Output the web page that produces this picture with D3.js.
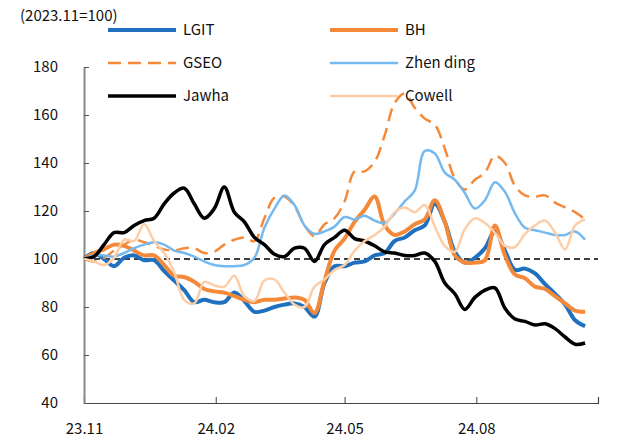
<!DOCTYPE html>
<html>
<head>
<meta charset="utf-8">
<script src="https://cdn.jsdelivr.net/npm/d3@7"></script>
<style>
  body { margin: 0; background: #fff; }
  text { font-family: "Noto Sans CJK KR", "Noto Sans", sans-serif; }
</style>
</head>
<body>
<script>
var width = 617;
var height = 441;
var marginLeft = 84;
var marginRight = 19;
var marginTop = 67;
var marginBottom = 38;

// weekly samples starting 2023-11-01, index 2023.11 = 100
var startDate = new Date(2023, 10, 1);
var endDate = new Date(2024, 9, 25);
var tickDates = [new Date(2023, 10, 1), new Date(2024, 1, 1), new Date(2024, 4, 1), new Date(2024, 7, 1)];
var tickLabels = ["23.11", "24.02", "24.05", "24.08"];
var yTicks = [40, 60, 80, 100, 120, 140, 160, 180];

var lgit = [100, 102.5, 100, 97, 100.5, 101.5, 99.5, 99.5, 95, 91, 87, 82, 83, 82, 82, 86, 82.5, 78, 78.5, 80,
  81, 81.5, 80, 76, 90, 97, 97, 98.5, 99, 101.5, 102.5, 107.5, 109, 112, 114, 123, 115.5, 103, 98.5, 100.5,
  104.5, 111.5, 103.5, 95.5, 96, 94, 89.5, 85.5, 81, 74.5, 72];
var bh = [100, 102.5, 104, 106, 105.5, 103.5, 101.5, 101.5, 97.5, 93, 92.5, 90.5, 87.5, 86.5, 86, 84.5, 83, 82, 83, 83,
  83.5, 84, 83, 77.5, 91, 103.5, 108.5, 115.5, 120.5, 126, 114, 110, 111.5, 114.5, 116.5, 124.5, 115.5, 101.5, 98.5, 98.5,
  99.5, 114, 101.5, 93.5, 92, 88.5, 87.5, 84.5, 81.5, 78.5, 78];
var gseo = [100, 99, 100.5, 103.5, 106, 108, 107, 105.5, 104, 103.5, 104.5, 104.5, 102.5, 103, 106, 108, 109, 107.5, 117, 125.5,
  126, 122, 114, 109.5, 114.5, 117, 124, 136.5, 136.5, 140.5, 151.5, 165, 169, 163, 158.5, 156, 146, 133.5, 129, 133,
  136, 143, 140, 130.5, 126.5, 126, 126.5, 123.5, 121.5, 119.5, 116.5];
var zhending = [100, 101.5, 101.5, 101, 102.5, 104.5, 106, 107, 106, 103.5, 102.5, 101, 99, 97.5, 97, 97, 97.5, 100.5, 113, 121,
  126.5, 122.5, 114, 110.5, 111.5, 113.5, 117.5, 116.5, 118, 116, 115, 119, 124, 128.5, 145, 144, 136, 133, 127.5, 121,
  124.5, 132, 128, 119, 113, 112, 111, 110, 110, 111.5, 108];
var jawha = [100, 101, 106, 111, 111, 114, 116, 117, 123, 127.5, 129.5, 123, 117, 121, 130, 119.5, 115.5, 109, 106, 102,
  101, 104.5, 104.5, 99, 106, 109, 112, 108.5, 107.5, 105.5, 103, 102.5, 101.5, 101.5, 102.5, 99, 90, 85.5, 79, 84,
  87, 88, 79.5, 75, 74, 72.5, 73, 71, 67.5, 64.5, 65];
var cowell = [100, 99, 97.5, 100.5, 108, 107.5, 114.5, 107.5, 102.5, 94.5, 83, 81.5, 90.5, 89, 88.5, 93, 84.5, 82.5, 91, 91.5,
  86, 81, 80, 88.5, 91.5, 95.5, 97.5, 103.5, 107.5, 110, 113.5, 119.5, 121.5, 119.5, 122.5, 113.5, 105.5, 103, 112.5, 117,
  115, 111, 105.5, 105, 110.5, 114, 116, 111, 104, 114, 116.5];

var dates = d3.range(lgit.length).map(i => d3.timeDay.offset(startDate, 7 * i));

var series = [
  { name: "LGIT", values: lgit, color: "#1f70be", width: 4, dash: null },
  { name: "BH", values: bh, color: "#f5893a", width: 4, dash: null },
  { name: "GSEO", values: gseo, color: "#f5893a", width: 2.5, dash: "13,7" },
  { name: "Zhen ding", values: zhending, color: "#74b9ef", width: 2.5, dash: null },
  { name: "Jawha", values: jawha, color: "#000000", width: 3.5, dash: null },
  { name: "Cowell", values: cowell, color: "#fccda6", width: 2.5, dash: null }
];

let svg = d3.select("body")
            .append("svg")
            .attr("width", width)
            .attr("height", height);

var xScale = d3.scaleTime()
      .domain([startDate, endDate])
      .range([marginLeft, width - marginRight]);

var yScale = d3.scaleLinear()
      .domain([40, 180])
      .range([height - marginBottom, marginTop]);

// x axis, ticks pointing up
var xAxis = svg.append("g")
      .attr("transform", `translate(0,${height - marginBottom})`)
      .call(d3.axisBottom(xScale).tickValues(tickDates).tickSize(-6).tickPadding(20)
              .tickFormat((d, i) => tickLabels[i]));
xAxis.select(".domain").attr("stroke", "#444").attr("stroke-width", 1.2);
xAxis.selectAll(".tick line").attr("stroke", "#444");
xAxis.selectAll(".tick text").attr("font-size", "15px").attr("fill", "#111");

// y axis, ticks pointing in
var yAxis = svg.append("g")
      .attr("transform", `translate(${marginLeft},0)`)
      .call(d3.axisLeft(yScale).tickValues(yTicks).tickSize(-5).tickPadding(26).tickSizeOuter(0));
yAxis.select(".domain").attr("stroke", "#888").attr("stroke-width", 2);
yAxis.selectAll(".tick line").attr("stroke", "#555");
yAxis.selectAll(".tick text").attr("font-size", "15px").attr("fill", "#111");

// base line at 100
svg.append("line")
   .attr("x1", marginLeft)
   .attr("x2", width - marginRight)
   .attr("y1", yScale(100))
   .attr("y2", yScale(100))
   .attr("stroke", "#000")
   .attr("stroke-width", 1.6)
   .attr("stroke-dasharray", "6,4");

var line = d3.line()
      .x((d, i) => xScale(dates[i]))
      .y(d => yScale(d))
      .curve(d3.curveCatmullRom.alpha(0.5));

svg.selectAll(".series")
   .data(series)
   .join("path")
     .attr("class", "series")
     .attr("fill", "none")
     .attr("stroke", d => d.color)
     .attr("stroke-width", d => d.width)
     .attr("stroke-dasharray", d => d.dash)
     .attr("stroke-linejoin", "round")
     .attr("d", d => line(d.values));

svg.append("text")
   .attr("x", 20)
   .attr("y", 21)
   .attr("font-size", "15px")
   .attr("fill", "#111")
   .text("(2023.11=100)");

// legend, two columns
var legend = svg.selectAll(".legend")
      .data(series)
      .join("g")
        .attr("class", "legend")
        .attr("transform", (d, i) => `translate(${i % 2 == 0 ? 108 : 330},${30 + Math.floor(i / 2) * 33})`);

legend.append("line")
      .attr("x1", 0).attr("x2", 68)
      .attr("stroke", d => d.color)
      .attr("stroke-width", d => d.width)
      .attr("stroke-dasharray", d => d.dash);

legend.append("text")
      .attr("x", 75)
      .attr("dy", "0.35em")
      .attr("font-size", "15px")
      .attr("fill", "#111")
      .text(d => d.name);
</script>
</body>
</html>
